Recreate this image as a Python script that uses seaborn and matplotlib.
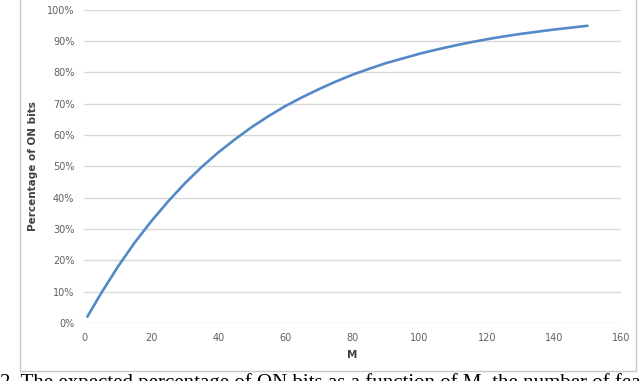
import numpy as np
import pandas as pd
import matplotlib
matplotlib.use("Agg")
import matplotlib.pyplot as plt
import seaborn as sns
from matplotlib.ticker import PercentFormatter

# values
m_values = [1, 5, 10, 15, 20, 25, 30, 35, 40, 45, 50, 55, 60, 65, 70, 75,
            80, 85, 90, 95, 100, 105, 110, 115, 120, 125, 130, 135, 140, 145, 150]
pct_on = [2.0, 9.3, 17.8, 25.5, 32.4, 38.7, 44.5, 49.7, 54.4, 58.6, 62.5, 66.0,
          69.2, 72.0, 74.6, 77.0, 79.2, 81.1, 82.9, 84.4, 85.9, 87.2, 88.4,
          89.5, 90.5, 91.4, 92.2, 92.9, 93.6, 94.2, 94.8]
x_ticks = [0, 20, 40, 60, 80, 100, 120, 140, 160]
y_ticks = [0, 10, 20, 30, 40, 50, 60, 70, 80, 90, 100]
caption = "2. The expected percentage of ON bits as a function of M, the number of features"

df = pd.DataFrame({"M": m_values, "pct": pct_on})

sns.set_style("white")
plt.rcParams["font.family"] = ["DejaVu Sans"]

fig = plt.figure(figsize=(6.4, 3.81), dpi=100)
ax = fig.add_axes([84 / 640, 1 - 323 / 381, 537 / 640, 313.5 / 381])

# outer chart frame
frame = plt.Rectangle((20 / 640, 1 - 371 / 381), 616 / 640, 371 / 381 + 0.01,
                      transform=fig.transFigure, fill=False,
                      edgecolor="#c8c8c8", linewidth=1.0)
fig.patches.append(frame)

sns.lineplot(data=df, x="M", y="pct", ax=ax, color="#5489c8", linewidth=1.9)

ax.set_xlim(0, 160)
ax.set_ylim(0, 100)
ax.set_xticks(x_ticks)
ax.set_yticks(y_ticks)
ax.yaxis.set_major_formatter(PercentFormatter(decimals=0))
ax.grid(axis="y", color="#d9d9d9", linewidth=1.0)
ax.set_axisbelow(True)
for s in ax.spines.values():
    s.set_visible(False)
ax.tick_params(axis="both", length=0, labelsize=7, colors="#606060", pad=7)
ax.set_xlabel("M", fontsize=7.5, fontweight="bold", color="#404040", labelpad=5)
ax.set_ylabel("Percentage of ON bits", fontsize=7.5, fontweight="bold",
              color="#404040", labelpad=6)

# caption below the chart, cut off by the image edge as in the reference
fig.text(0.0, 1 - 373 / 381, caption, fontsize=15, family="Liberation Serif",
         va="top", ha="left", color="black")

fig.savefig("out.png", dpi=100)
